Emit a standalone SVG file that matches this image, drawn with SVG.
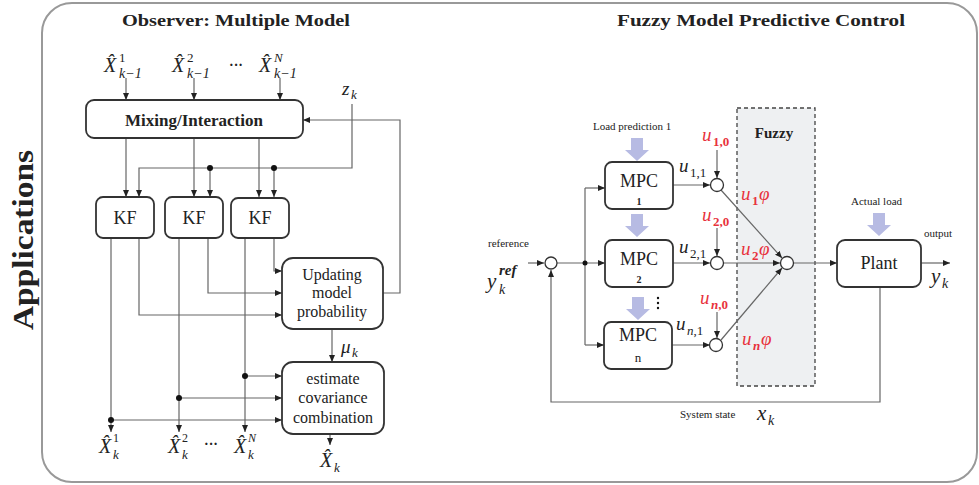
<svg xmlns="http://www.w3.org/2000/svg" width="979" height="485" viewBox="0 0 979 485" font-family="'Liberation Serif', serif">
<defs>
<marker id="ar" markerWidth="7" markerHeight="6" refX="7" refY="3" orient="auto" markerUnits="userSpaceOnUse"><path d="M0,0 L7,3 L0,6 z" fill="#222"/></marker>
<style>
.ln{stroke:#666;stroke-width:1.2;fill:none}
.box{fill:#fff;stroke:#333;stroke-width:1.8}
.sv{font-family:"Liberation Serif",serif;fill:#222}
.b{font-weight:bold}
.m{font-family:"Liberation Serif",serif;font-style:italic;fill:#222}
.n{font-style:normal}
.r{fill:#e8323c}
.dot{fill:#111}
.big{fill:#b7bbe3}
.c{text-anchor:middle}
</style>
</defs>
<rect x="42" y="3" width="935" height="479" rx="30" fill="#fff" stroke="#999" stroke-width="2"/>
<text class="sv b c" transform="translate(33,240) rotate(-90)" font-size="29" textLength="180" lengthAdjust="spacingAndGlyphs">Applications</text>

<text class="sv b c" x="236" y="26" font-size="17" textLength="228" lengthAdjust="spacingAndGlyphs">Observer: Multiple Model</text>
<text class="sv b c" x="761" y="26" font-size="17" textLength="288" lengthAdjust="spacingAndGlyphs">Fuzzy Model Predictive Control</text>

<g id="fuzzy-region">
<rect x="737" y="108" width="78" height="278" fill="#eef0f2" stroke="#444" stroke-width="1.3" stroke-dasharray="4,3"/>
<text class="sv b c" x="774" y="138" font-size="15">Fuzzy</text>
</g>

<g id="connectors">
<path class="ln" d="M126,78 V100" marker-end="url(#ar)"/>
<path class="ln" d="M194,78 V100" marker-end="url(#ar)"/>
<path class="ln" d="M280,78 V100" marker-end="url(#ar)"/>
<path class="ln" d="M126,138 V197" marker-end="url(#ar)"/>
<path class="ln" d="M194,138 V197" marker-end="url(#ar)"/>
<path class="ln" d="M259,138 V197" marker-end="url(#ar)"/>
<path class="ln" d="M352,104 V168 H139 V197" marker-end="url(#ar)"/>
<path class="ln" d="M210,168 V197" marker-end="url(#ar)"/>
<path class="ln" d="M274,168 V197" marker-end="url(#ar)"/>
<circle class="dot" cx="210" cy="168" r="3"/>
<circle class="dot" cx="274" cy="168" r="3"/>
<path class="ln" d="M383,293 H400 V120 H303" marker-end="url(#ar)"/>
<path class="ln" d="M111,238 V432" marker-end="url(#ar)"/>
<path class="ln" d="M139,238 V315 H282" marker-end="url(#ar)"/>
<path class="ln" d="M179,238 V432" marker-end="url(#ar)"/>
<path class="ln" d="M208,238 V293 H282" marker-end="url(#ar)"/>
<path class="ln" d="M245,238 V432" marker-end="url(#ar)"/>
<path class="ln" d="M274,238 V271 H282" marker-end="url(#ar)"/>
<path class="ln" d="M245,376 H282" marker-end="url(#ar)"/>
<path class="ln" d="M179,398 H282" marker-end="url(#ar)"/>
<path class="ln" d="M111,420 H282" marker-end="url(#ar)"/>
<circle class="dot" cx="245" cy="376" r="3"/>
<circle class="dot" cx="179" cy="398" r="3"/>
<circle class="dot" cx="111" cy="420" r="3"/>
<path class="ln" d="M332,329 V362" marker-end="url(#ar)"/>
<path class="ln" d="M330,434 V445" marker-end="url(#ar)"/>

<path class="ln" d="M528,263 H544" marker-end="url(#ar)"/>
<path class="ln" d="M557,263 H605" marker-end="url(#ar)"/>
<path class="ln" d="M585,188 V345"/>
<path class="ln" d="M585,188 H605" marker-end="url(#ar)"/>
<path class="ln" d="M585,345 H604" marker-end="url(#ar)"/>
<circle class="dot" cx="585" cy="263" r="2.5"/>
<path class="ln" d="M880,287 V402 H551 V270" marker-end="url(#ar)"/>
<path class="ln" d="M673,185 H710" marker-end="url(#ar)"/>
<path class="ln" d="M673,263 H710" marker-end="url(#ar)"/>
<path class="ln" d="M672,345 H710" marker-end="url(#ar)"/>
<path class="ln" d="M717,150 V178" marker-end="url(#ar)"/>
<path class="ln" d="M717,228 V256" marker-end="url(#ar)"/>
<path class="ln" d="M717,312 V338" marker-end="url(#ar)"/>
<path class="ln" d="M721,190 L782,258" marker-end="url(#ar)"/>
<path class="ln" d="M724,263 H780" marker-end="url(#ar)"/>
<path class="ln" d="M721,340 L782,268" marker-end="url(#ar)"/>
<path class="ln" d="M794,263 H837" marker-end="url(#ar)"/>
<path class="ln" d="M921,263 H950" marker-end="url(#ar)"/>
</g>

<g id="mixing">
<rect class="box" x="86" y="100" width="217" height="38" rx="8"/>
<text class="sv b c" x="194" y="126" font-size="17">Mixing/Interaction</text>
</g>
<g id="kf1"><rect class="box" x="96" y="197" width="58" height="41" rx="7"/><text class="sv c" x="125" y="224" font-size="18">KF</text></g>
<g id="kf2"><rect class="box" x="165" y="197" width="58" height="41" rx="7"/><text class="sv c" x="194" y="224" font-size="18">KF</text></g>
<g id="kf3"><rect class="box" x="231" y="198" width="58" height="40" rx="7"/><text class="sv c" x="260" y="224" font-size="18">KF</text></g>
<g id="updating">
<rect class="box" x="282" y="258" width="101" height="71" rx="11"/>
<text class="sv c" x="332" y="280" font-size="16">Updating</text>
<text class="sv c" x="332" y="298" font-size="16">model</text>
<text class="sv c" x="332" y="317" font-size="16">probability</text>
</g>
<g id="estimate">
<rect class="box" x="282" y="362" width="102" height="72" rx="11"/>
<text class="sv c" x="333" y="384" font-size="16">estimate</text>
<text class="sv c" x="333" y="403" font-size="16">covariance</text>
<text class="sv c" x="333" y="423" font-size="16">combination</text>
</g>

<g id="math-left">
<text class="m" x="104" y="72" font-size="20">X̂</text><text class="m n" x="119" y="62" font-size="13">1</text><text class="m" x="119" y="78" font-size="14">k−1</text>
<text class="m" x="172" y="72" font-size="20">X̂</text><text class="m n" x="187" y="62" font-size="13">2</text><text class="m" x="187" y="78" font-size="14">k−1</text>
<text class="sv b" x="229" y="70" font-size="14">···</text>
<text class="m" x="259" y="72" font-size="20">X̂</text><text class="m" x="274" y="62" font-size="13">N</text><text class="m" x="274" y="78" font-size="14">k−1</text>
<text class="m" x="342" y="95" font-size="19">z</text><text class="m" x="351" y="99" font-size="13">k</text>
<text class="m" x="341" y="353" font-size="19">μ</text><text class="m" x="352" y="357" font-size="13">k</text>
<text class="m" x="99" y="453" font-size="20">X̂</text><text class="m n" x="113" y="442" font-size="12">1</text><text class="m" x="113" y="459" font-size="13">k</text>
<text class="m" x="168" y="453" font-size="20">X̂</text><text class="m n" x="182" y="442" font-size="12">2</text><text class="m" x="182" y="459" font-size="13">k</text>
<text class="sv b" x="204" y="449" font-size="14">···</text>
<text class="m" x="234" y="453" font-size="20">X̂</text><text class="m" x="248" y="442" font-size="12">N</text><text class="m" x="248" y="459" font-size="13">k</text>
<text class="m" x="320" y="467" font-size="20">X̂</text><text class="m" x="334" y="472" font-size="13">k</text>
</g>

<g id="load-arrows">
<path class="big" d="M631,138 H643 V150 H649 L637,161 L625,150 H631 Z"/>
<path class="big" d="M631,214 H643 V226 H649 L637,237 L625,226 H631 Z"/>
<path class="big" d="M632,297 H644 V309 H650 L638,320 L626,309 H632 Z"/>
<path class="big" d="M873,213 H885 V225 H891 L879,236 L867,225 H873 Z"/>
</g>
<g id="mpc1"><rect class="box" x="605" y="162" width="68" height="47" rx="7"/><text class="sv c" x="639" y="187" font-size="18">MPC</text><text class="sv b c" x="639" y="205" font-size="10">1</text></g>
<g id="mpc2"><rect class="box" x="605" y="240" width="68" height="47" rx="7"/><text class="sv c" x="639" y="265" font-size="18">MPC</text><text class="sv b c" x="639" y="283" font-size="10">2</text></g>
<g id="mpcn"><rect class="box" x="604" y="322" width="68" height="47" rx="7"/><text class="sv c" x="638" y="341" font-size="18">MPC</text><text class="sv c" x="638" y="362" font-size="13">n</text></g>
<g id="plant"><rect class="box" x="837" y="240" width="84" height="47" rx="8"/><text class="sv c" x="879" y="269" font-size="18">Plant</text></g>
<g id="sum-ref"><circle cx="551" cy="263" r="6" fill="#fff" stroke="#333" stroke-width="1.3"/></g>
<g id="sum1"><circle cx="717" cy="185" r="6.5" fill="#fff" stroke="#333" stroke-width="1.3"/></g>
<g id="sum2"><circle cx="717" cy="263" r="6.5" fill="#fff" stroke="#333" stroke-width="1.3"/></g>
<g id="sumn"><circle cx="716" cy="345" r="6.5" fill="#fff" stroke="#333" stroke-width="1.3"/></g>
<g id="combiner"><circle cx="787" cy="263" r="6.5" fill="#fff" stroke="#333" stroke-width="1.3"/></g>

<g id="labels-right">
<text class="sv" x="593" y="130" font-size="11">Load prediction 1</text>
<text class="sv" x="488" y="247" font-size="11">reference</text>
<text class="m" x="487" y="288" font-size="21">y</text><text class="m b" x="499" y="275" font-size="15">ref</text><text class="m" x="499" y="294" font-size="14">k</text>
<circle class="dot" cx="658" cy="298" r="1.2"/><circle class="dot" cx="658" cy="303" r="1.2"/><circle class="dot" cx="658" cy="308" r="1.2"/>
<text class="m" x="679" y="172" font-size="19">u</text><text class="m n" x="690" y="177" font-size="13">1,1</text>
<text class="m" x="679" y="253" font-size="19">u</text><text class="m n" x="690" y="258" font-size="13">2,1</text>
<text class="m" x="676" y="330" font-size="19">u</text><text class="m" x="687" y="335" font-size="13">n<tspan class="n">,1</tspan></text>
<text class="m r" x="702" y="141" font-size="19">u</text><text class="m r n b" x="713" y="146" font-size="13">1,0</text>
<text class="m r" x="702" y="221" font-size="19">u</text><text class="m r n b" x="713" y="226" font-size="13">2,0</text>
<text class="m r" x="700" y="304" font-size="19">u</text><text class="m r b" x="711" y="309" font-size="13">n<tspan class="n">,0</tspan></text>
<text class="m r" x="741" y="200" font-size="19">u</text><text class="m r n b" x="752" y="205" font-size="13">1</text><text class="m r" x="759" y="200" font-size="19">φ</text>
<text class="m r" x="741" y="255" font-size="19">u</text><text class="m r n b" x="752" y="260" font-size="13">2</text><text class="m r" x="759" y="255" font-size="19">φ</text>
<text class="m r" x="742" y="345" font-size="19">u</text><text class="m r b" x="753" y="350" font-size="13">n</text><text class="m r" x="761" y="345" font-size="19">φ</text>
<text class="sv" x="851" y="205" font-size="11">Actual load</text>
<text class="sv" x="924" y="237" font-size="11">output</text>
<text class="m" x="931" y="283" font-size="21">y</text><text class="m" x="942" y="288" font-size="14">k</text>
<text class="sv" x="680" y="418" font-size="11">System state</text>
<text class="m" x="757" y="420" font-size="21">x</text><text class="m" x="768" y="425" font-size="14">k</text>
</g>
</svg>
